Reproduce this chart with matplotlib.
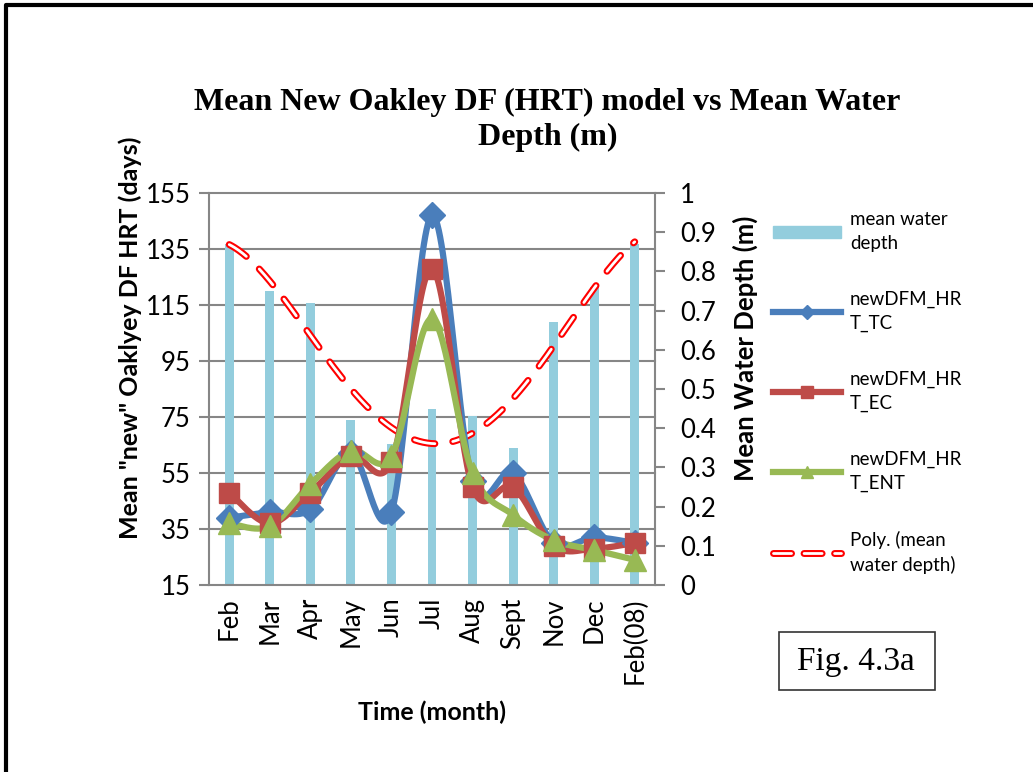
import numpy as np
import matplotlib
matplotlib.use("Agg")
import matplotlib.pyplot as plt
from matplotlib.lines import Line2D
from matplotlib.patches import Patch, Rectangle
from matplotlib.transforms import blended_transform_factory

# data
months = ["Feb", "Mar", "Apr", "May", "Jun", "Jul", "Aug", "Sept", "Nov", "Dec", "Feb(08)"]
water_depth = [0.87, 0.75, 0.72, 0.42, 0.36, 0.45, 0.43, 0.35, 0.67, 0.76, 0.87]
hrt_tc = [39, 41, 42, 62, 41, 147, 52, 55, 30, 32, 30]
hrt_ec = [48, 37, 48, 61, 59, 128, 50, 50, 29, 28, 30]
hrt_ent = [37, 36, 51, 63, 61, 110, 55, 40, 31, 27.5, 24]

sans = "Lato"
serif = "Liberation Serif"

blue = "#4A7EBB"
red = "#BE4B48"
green = "#98B954"
barc = "#93CDDD"
gridc = "#868686"

plt.rcParams["lines.scale_dashes"] = False


def smooth(x, y, n=30):
    # catmull-rom, same idea as Excel's smoothed line
    pts = np.column_stack([x, y]).astype(float)
    ext = np.vstack([pts[0], pts, pts[-1]])
    out = []
    t = np.linspace(0, 1, n, endpoint=False)[:, None]
    for i in range(len(pts) - 1):
        p0, p1, p2, p3 = ext[i], ext[i + 1], ext[i + 2], ext[i + 3]
        seg = 0.5 * (2 * p1 + (-p0 + p2) * t + (2 * p0 - 5 * p1 + 4 * p2 - p3) * t ** 2
                     + (-p0 + 3 * p1 - 3 * p2 + p3) * t ** 3)
        out.append(seg)
    out.append(pts[-1:])
    s = np.vstack(out)
    return s[:, 0], s[:, 1]


fig = plt.figure(figsize=(10.33, 7.72), dpi=100)
ax = fig.add_axes([0.2023, 0.2422, 0.4318, 0.5078])
ax2 = ax.twinx()
ax.set_zorder(ax2.get_zorder() + 1)
ax.patch.set_visible(False)

x = np.arange(len(months))

# gridlines of the left axis, drawn behind the bars
gtr = blended_transform_factory(ax2.transAxes, ax.transData)
for v in range(35, 156, 20):
    ax2.plot([0, 1], [v, v], color=gridc, lw=1.5, transform=gtr, zorder=0, clip_on=False)

ax2.bar(x, water_depth, width=0.22, color=barc, zorder=2)

# polynomial trendline of the water depth
coef = np.polyfit(x, water_depth, 4)
xt = np.linspace(0, len(months) - 1, 300)
yt = np.polyval(coef, xt)
ax2.plot(xt, yt, color="red", lw=5, ls=(0, (15, 13)), zorder=3, dash_capstyle="round")
ax2.plot(xt, yt, color="white", lw=2, ls=(0, (15, 13)), zorder=4, dash_capstyle="round")

for vals, col, mk, ms in [(hrt_tc, blue, "D", 13), (hrt_ec, red, "s", 14), (hrt_ent, green, "^", 16)]:
    sx, sy = smooth(x, vals)
    ax.plot(sx, sy, color=col, lw=4.5, solid_capstyle="round", zorder=3)
    ax.plot(x, vals, ls="none", marker=mk, ms=ms, color=col, zorder=4)

ax.set_xlim(-0.5, len(months) - 0.5)
ax.set_ylim(15, 155)
ax.set_yticks(range(15, 156, 20))
ax2.set_ylim(0, 1)
ax2.set_yticks(np.arange(0, 1.01, 0.1))
ax2.set_yticklabels(["0", "0.1", "0.2", "0.3", "0.4", "0.5", "0.6", "0.7", "0.8", "0.9", "1"])
ax.set_xticks(x)
ax.set_xticklabels(months, rotation=90, fontfamily=sans, fontsize=18.5)

for a in (ax, ax2):
    for s in a.spines.values():
        s.set_visible(False)
    a.tick_params(axis="y", color=gridc, width=1.5, length=7, labelsize=18.5)
    for lab in a.get_yticklabels():
        lab.set_fontfamily(sans)
ax.tick_params(axis="y", pad=6)
ax2.tick_params(axis="y", pad=11)
ax.spines["left"].set_visible(True)
ax.spines["left"].set_color(gridc)
ax.spines["left"].set_linewidth(1.5)
ax.spines["bottom"].set_visible(True)
ax.spines["bottom"].set_color(gridc)
ax.spines["bottom"].set_linewidth(1.5)
ax2.spines["right"].set_visible(True)
ax2.spines["right"].set_color(gridc)
ax2.spines["right"].set_linewidth(1.5)
ax.tick_params(axis="x", length=0, pad=9)

ax.set_ylabel('Mean "new" Oaklyey DF HRT (days)', fontfamily=sans, fontweight="bold", fontsize=18)
ax.yaxis.set_label_coords(-0.150, 0.63)
ax2.set_ylabel("Mean Water Depth (m)", fontfamily=sans, fontweight="bold", fontsize=18.5)
ax2.yaxis.set_label_coords(1.175, 0.605)
ax.set_xlabel("Time (month)", fontfamily=sans, fontweight="bold", fontsize=18)
ax.xaxis.set_label_coords(0.5, -0.295)

fig.text(0.530, 0.845, "Mean New Oakley DF (HRT) model vs Mean Water\nDepth (m)",
         ha="center", va="center", fontfamily=serif, fontweight="bold", fontsize=23,
         linespacing=1.27)

poly_handle = (Line2D([], [], color="red", lw=5, ls=(0, (13, 9)), dash_capstyle="round"),
               Line2D([], [], color="white", lw=2, ls=(0, (13, 9)), dash_capstyle="round"))
handles = [
    Patch(color=barc),
    Line2D([], [], color=blue, lw=4.5, marker="D", ms=7),
    Line2D([], [], color=red, lw=4.5, marker="s", ms=9),
    Line2D([], [], color=green, lw=4.5, marker="^", ms=8),
    poly_handle,
]
labels = ["mean water\ndepth", "newDFM_HR\nT_TC", "newDFM_HR\nT_EC", "newDFM_HR\nT_ENT",
          "Poly. (mean\nwater depth)"]
leg = fig.legend(handles, labels, loc="upper left", bbox_to_anchor=(0.732, 0.748), frameon=False,
                 prop={"family": sans, "size": 13.5}, handlelength=3.6, handleheight=0.6,
                 labelspacing=2.05, handletextpad=0.5)
for t in leg.get_texts():
    t.set_linespacing(1.5)

# figure label box
fig.patches.append(Rectangle((0.754, 0.106), 0.151, 0.075, transform=fig.transFigure,
                             fill=False, edgecolor="#333333", lw=1.2))
fig.text(0.829, 0.143, "Fig. 4.3a", ha="center", va="center", fontfamily=serif, fontsize=24)

# page border on the left and top
fig.add_artist(Line2D([0.0055, 0.0055, 1.0], [0.0, 0.9935, 0.9935], transform=fig.transFigure,
                      color="black", lw=3))

fig.savefig("out.png", dpi=100)
